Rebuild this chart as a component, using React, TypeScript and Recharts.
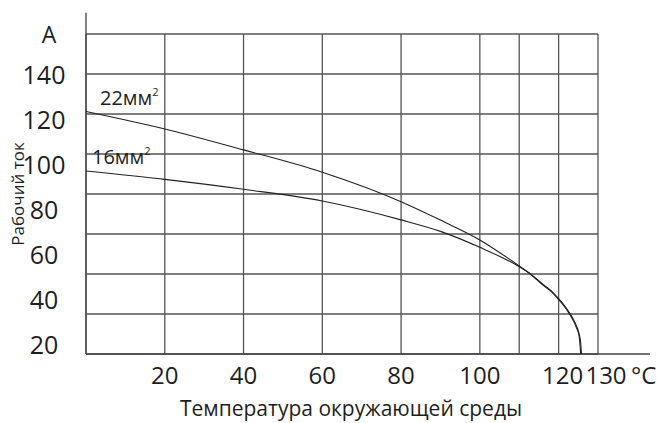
import React from 'react';
import {
  LineChart,
  Line,
  XAxis,
  YAxis,
  CartesianGrid,
  ReferenceLine,
  Label,
  LabelList,
} from 'recharts';

// ambient temperature, °C
const TEMPERATURES = [0, 20, 40, 60, 80, 90, 100, 110, 112.5, 116, 118, 120, 122, 123.5, 124.5, 125.2, 125.6, 125.8];
// working current, A
const CURRENT_22 = [123.8, 116, 106.7, 96.8, 83.7, 75.5, 66.7, 55.1, 52, 47, 44.3, 40.6, 36.3, 32.2, 28.6, 25, 21, 16];
const CURRENT_16 = [97.3, 93.6, 89.2, 84, 75.6, 70.5, 63.4, 54.8, 52, 46.6, 44, 40.2, 35.8, 31.6, 27.8, 24, 16, 16];

const X_TICKS = [20, 40, 60, 80, 100, 110, 120, 130];
const X_LABELLED = [20, 40, 60, 80, 100, 120, 130];
const Y_TICKS = [20, 40, 60, 80, 100, 120, 140];
const GRID_ROW_COUNT = 8;

const X_DOMAIN: [number, number] = [0, 130];
const Y_DOMAIN: [number, number] = [16, 158.2];
const X_AXIS_END = 143.2;
const Y_AXIS_END = 167.6;

const FONT = '"Open Sans", "Noto Sans", sans-serif';
const INK = '#1e1e1e';

const data = TEMPERATURES.map((temp, i) => ({
  temp,
  c22: CURRENT_22[i],
  c16: temp <= 125.6 ? CURRENT_16[i] : null,
}));

// the horizontal rules of the printed grid are evenly spaced and do not follow the value ticks
const gridRows = ({ offset }: any) =>
  Array.from({ length: GRID_ROW_COUNT + 1 }, (_, i) => offset.top + (offset.height * i) / GRID_ROW_COUNT);

const XTick = (props: any) => {
  const { x, y, payload } = props;
  if (!X_LABELLED.includes(payload.value)) return <g />;
  // the last two labels are pushed apart a little in the original
  const nudge = payload.value === 130 ? 8 : payload.value === 120 ? 4 : 0;
  return (
    <text
      x={x + nudge}
      y={y}
      dy="0.71em"
      textAnchor="middle"
      fontSize={24}
      fontFamily={FONT}
      fill={INK}
    >
      {payload.value}
    </text>
  );
};

const curveLabel = (name: string, dx: number, dy: number) => (props: any) => {
  const { x, y, index } = props;
  if (index !== 0) return null;
  const fs = 20;
  return (
    <text
      x={x + dx}
      y={y + dy + 0.355 * fs}
      fontSize={fs}
      fontFamily={FONT}
      fill={INK}
      textAnchor="start"
    >
      {name}
      <tspan fontSize={11} dy={-9}>
        2
      </tspan>
    </text>
  );
};

export default function App() {
  return (
    <div style={{ position: 'absolute', left: 0, top: 0 }}>
      <LineChart
        width={657}
        height={423}
        data={data}
        margin={{ top: 34, right: 59, left: 0, bottom: 27 }}
      >
        <CartesianGrid
          yAxisId="amp"
          stroke="#555"
          strokeWidth={1.3}
          horizontalCoordinatesGenerator={gridRows}
        />
        <XAxis
          dataKey="temp"
          type="number"
          domain={X_DOMAIN}
          ticks={X_TICKS}
          allowDataOverflow
          axisLine={false}
          tickLine={false}
          tickSize={6}
          tickMargin={7}
          height={42}
          tick={<XTick />}
        >
          <Label value="°C" position="right" offset={33} fontSize={24} fontFamily={FONT} fill={INK} />
          <Label
            value="Температура окружающей среды"
            position="bottom"
            offset={5}
            dx={9}
            fontSize={21}
            fontFamily={FONT}
            fill={INK}
          />
        </XAxis>
        <YAxis
          yAxisId="amp"
          type="number"
          domain={Y_DOMAIN}
          ticks={Y_TICKS}
          allowDataOverflow
          width={86}
          axisLine={false}
          tickLine={false}
          tickSize={6}
          tickMargin={36}
          tick={{ textAnchor: 'middle', fontSize: 25, fontFamily: FONT, fill: INK }}
        >
          <Label value="A" position="insideTop" offset={-7} dx={6} fontSize={23} fontFamily={FONT} fill={INK} />
          <Label
            value="Рабочий ток"
            position="insideLeft"
            angle={-90}
            offset={18}
            fontSize={17}
            fontFamily={FONT}
            fill={INK}
            style={{ textAnchor: 'middle' }}
          />
        </YAxis>
        <ReferenceLine
          yAxisId="amp"
          segment={[
            { x: 0, y: Y_DOMAIN[0] },
            { x: X_AXIS_END, y: Y_DOMAIN[0] },
          ]}
          ifOverflow="visible"
          stroke="#444"
          strokeWidth={1.3}
        />
        <ReferenceLine
          yAxisId="amp"
          segment={[
            { x: 0, y: Y_DOMAIN[0] },
            { x: 0, y: Y_AXIS_END },
          ]}
          ifOverflow="visible"
          stroke="#444"
          strokeWidth={1.3}
        />
        <Line
          yAxisId="amp"
          dataKey="c22"
          type="monotone"
          stroke="#222"
          strokeWidth={1.1}
          dot={false}
          isAnimationActive={false}
        >
          <LabelList dataKey="c22" content={curveLabel('22мм', 14, -13.5)} />
        </Line>
        <Line
          yAxisId="amp"
          dataKey="c16"
          type="monotone"
          stroke="#222"
          strokeWidth={1.1}
          dot={false}
          isAnimationActive={false}
        >
          <LabelList dataKey="c16" content={curveLabel('16мм', 6, -14)} />
        </Line>
      </LineChart>
    </div>
  );
}
